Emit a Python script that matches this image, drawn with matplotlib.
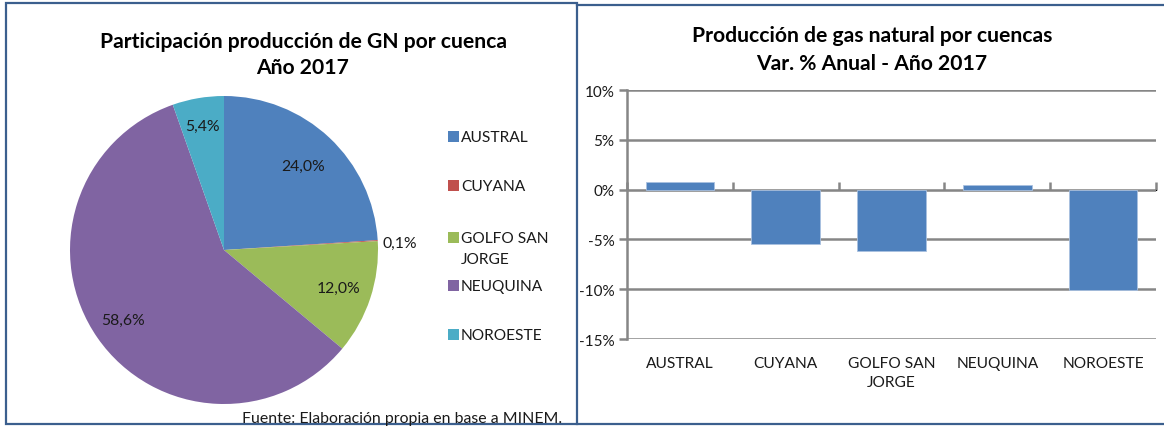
import numpy as np
import matplotlib
matplotlib.use("Agg")
import matplotlib.pyplot as plt
from matplotlib.patches import Rectangle
from matplotlib.lines import Line2D
from matplotlib.ticker import FuncFormatter

plt.rcParams['font.family'] = ['Lato', 'DejaVu Sans']

# datos
cuencas = ["AUSTRAL", "CUYANA", "GOLFO SAN\nJORGE", "NEUQUINA", "NOROESTE"]
participacion = [24.0, 0.1, 12.0, 58.6, 5.4]
var_anual = [0.008, -0.055, -0.062, 0.005, -0.101]
colores = ["#4F81BD", "#C0504D", "#9BBB59", "#8064A2", "#4BACC6"]
dist_etiqueta = [0.75, 1.03, 0.78, 0.80, 0.82]
y_ticks = [0.10, 0.05, 0.0, -0.05, -0.10, -0.15]

W, H = 1164, 427
BORDE = "#3B5F8E"
TXT = "#1a1a1a"
GRIS = "#868686"


def fx(px):
    return px / W


def fy(py):
    return 1 - py / H


fig = plt.figure(figsize=(W / 100, H / 100), dpi=100)

# ---- torta ----
cx, cy, r = 224, 251, 154
ax1 = fig.add_axes([fx(cx - r), fy(cy + r), 2 * r / W, 2 * r / H])
wedges, _ = ax1.pie(participacion, colors=colores, startangle=90, counterclock=False,
                    radius=1, wedgeprops=dict(edgecolor="none"))
ax1.set_xlim(-1, 1)
ax1.set_ylim(-1, 1)
for w, v, d in zip(wedges, participacion, dist_etiqueta):
    ang = np.deg2rad((w.theta1 + w.theta2) / 2)
    ax1.text(d * np.cos(ang), d * np.sin(ang) - (0.02 if d > 1 else 0),
             f"{v:.1f}".replace(".", ",") + "%",
             ha="left" if d > 1 else "center", va="center", fontsize=11.3, color=TXT)

fig.text(fx(303), fy(42), "Participación producción de GN por cuenca", ha="center",
         va="center", fontsize=15.2, fontweight="bold", color="black")
fig.text(fx(303), fy(68), "Año 2017", ha="center", va="center", fontsize=15.2,
         fontweight="bold", color="black")

# leyenda
ley_y = [137, 186, 238, 286, 335]
for nombre, col, yy in zip(cuencas, colores, ley_y):
    fig.add_artist(Rectangle((fx(448), fy(yy + 5.5)), 11 / W, 11 / H,
                             transform=fig.transFigure, facecolor=col, edgecolor="none"))
    fig.text(fx(461), fy(yy - 6), nombre, ha="left", va="top", fontsize=11.2,
             color=TXT, linespacing=1.65)

fig.text(fx(242), fy(412), "Fuente: Elaboración propia en base a MINEM.", ha="left",
         va="top", fontsize=11.4, color=TXT)

# ---- barras ----
ax2 = fig.add_axes([fx(627), fy(340), (1156 - 627) / W, (340 - 91) / H])
x = np.arange(len(cuencas))
ax2.bar(x, var_anual, width=0.65, color="#4F81BD", edgecolor="#A9C1E0", linewidth=0.6,
        zorder=3)
ax2.set_xlim(-0.5, len(cuencas) - 0.5)
ax2.set_ylim(-0.15, 0.10)
ax2.set_yticks(y_ticks)
ax2.yaxis.set_major_formatter(FuncFormatter(lambda v, p: f"{v * 100:.0f}%"))
ax2.grid(axis="y", color=GRIS, linewidth=1.8, zorder=1)
ax2.set_axisbelow(True)
for s in ["top", "right", "bottom"]:
    ax2.spines[s].set_visible(False)
ax2.spines["left"].set_color(GRIS)
ax2.spines["left"].set_linewidth(1.8)
ax2.tick_params(axis="y", length=6, width=1.8, color=GRIS, labelsize=11,
                labelcolor=TXT, pad=3)
ax2.set_xticks(x)
ax2.set_xticklabels(cuencas, fontsize=11.2, color=TXT, linespacing=1.5, va="top")
ax2.tick_params(axis="x", length=0, pad=12)

sec = ax2.secondary_xaxis(0.6)
sec.set_xticks(np.arange(len(cuencas) + 1) - 0.5)
sec.set_xticklabels([])
sec.tick_params(axis="x", direction="out", length=6, width=1.8, color=GRIS)
sec.spines["bottom"].set_color(GRIS)
sec.spines["bottom"].set_linewidth(1.8)

fig.text(fx(872), fy(36), "Producción de gas natural por cuencas", ha="center",
         va="center", fontsize=15.2, fontweight="bold", color="black")
fig.text(fx(872), fy(64), "Var. % Anual - Año 2017", ha="center", va="center",
         fontsize=15.2, fontweight="bold", color="black")

# ---- bordes ----
fig.add_artist(Rectangle((fx(6), fy(425)), (577 - 6) / W, (425 - 4) / H,
                         transform=fig.transFigure, fill=False, edgecolor=BORDE,
                         linewidth=1.6))
fig.add_artist(Line2D([fx(577), 1], [fy(5.5), fy(5.5)], transform=fig.transFigure,
                      color=BORDE, linewidth=1.6))
fig.add_artist(Line2D([fx(577), 1], [fy(425), fy(425)], transform=fig.transFigure,
                      color=BORDE, linewidth=1.6))

fig.savefig("out.png", dpi=100, facecolor="white")
